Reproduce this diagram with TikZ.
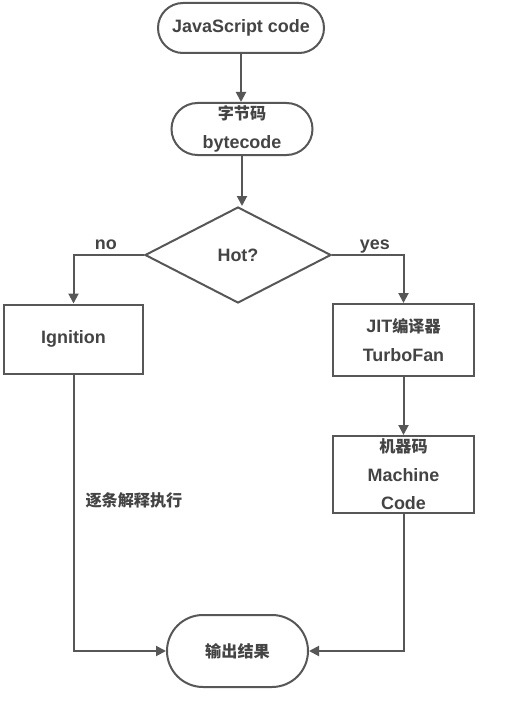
\documentclass[tikz,border=0pt]{standalone}
\usepackage{fontspec}
\setmainfont{Liberation Sans}
\newfontfamily\cjk{Noto Sans CJK SC}[Scale=0.9]
\newcommand\zh[1]{{\cjk #1}}
\usetikzlibrary{shapes.geometric,arrows.meta}
\definecolor{linec}{HTML}{575757}
\definecolor{textc}{HTML}{444444}
\tikzset{
  base/.style={draw=linec, line width=2bp, text=textc, font=\fontsize{18}{28.5}\selectfont\bfseries, align=center, inner sep=0pt},
  pill/.style={base, rectangle},
  box/.style={base, rectangle},
  dia/.style={base, diamond, aspect=1.9},
  arr/.style={draw=linec, line width=2bp, -{Triangle[length=10bp,width=10bp]}},
  lab/.style={text=textc, font=\fontsize{18}{20}\selectfont\bfseries, inner sep=0pt},
}
\begin{document}
\begin{tikzpicture}[x=1bp,y=-1bp]
\useasboundingbox[fill=white] (0,0) rectangle (531,702);
\node[pill, rounded corners=25bp, minimum width=166bp, minimum height=50bp] (js) at (241,28) {JavaScript code};
\node[pill, rounded corners=26bp, minimum width=141bp, minimum height=52bp] (bc) at (242,129) {\zh{字节码}\\bytecode};
\node[dia, minimum width=186bp, minimum height=96bp] (hot) at (238,255) {Hot?};
\node[box, minimum width=139bp, minimum height=69bp] (ign) at (73.5,339) {Ignition};
\node[box, minimum width=141bp, minimum height=72bp] (jit) at (403.5,340) {JIT\zh{编译器}\\TurboFan};
\node[box, minimum width=141bp, minimum height=77bp] (mc) at (403.5,474.5) {\zh{机器码}\\Machine\\Code};
\node[pill, rounded corners=36bp, minimum width=141bp, minimum height=72bp] (out) at (237.5,651) {\zh{输出结果}};

\draw[arr] (js.south) -- (js.south |- bc.north);
\draw[arr] (bc.south) -- (bc.south |- hot.north);
\draw[arr] (hot.west) -| node[lab, pos=0.27, anchor=base, yshift=6bp] {no} (ign.north);
\draw[arr] (hot.east) -| node[lab, pos=0.3, anchor=base, yshift=6bp] {yes} (jit.north);
\draw[arr] (jit.south) -- (jit.south |- mc.north);
\draw[arr] (ign.south) |- node[lab, pos=0.227, right=11bp] {\zh{逐条解释执行}} (out.west);
\draw[arr] (mc.south) |- (out.east);
\end{tikzpicture}
\end{document}
